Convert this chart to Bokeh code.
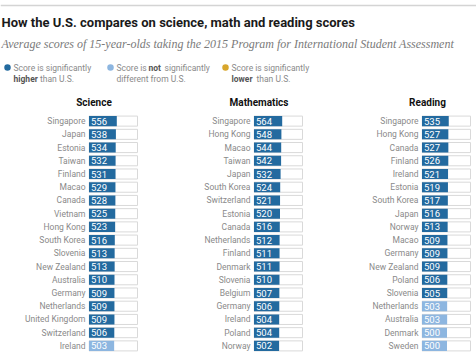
from bokeh.plotting import figure
from bokeh.layouts import column, row
from bokeh.models import Range1d, FactorRange, ColumnDataSource
from bokeh.core.properties import value
from bokeh.embed import file_html
from bokeh.resources import INLINE

# ---------------- data ----------------
science_countries = ["Singapore", "Japan", "Estonia", "Taiwan", "Finland", "Macao",
                     "Canada", "Vietnam", "Hong Kong", "South Korea", "Slovenia",
                     "New Zealand", "Australia", "Germany", "Netherlands",
                     "United Kingdom", "Switzerland", "Ireland"]
science_scores = [556, 538, 534, 532, 531, 529, 528, 525, 523, 516, 513, 513,
                  510, 509, 509, 509, 506, 503]
science_sig = ["higher"] * 17 + ["same"]

math_countries = ["Singapore", "Hong Kong", "Macao", "Taiwan", "Japan", "South Korea",
                  "Switzerland", "Estonia", "Canada", "Netherlands", "Finland",
                  "Denmark", "Slovenia", "Belgium", "Germany", "Ireland", "Poland",
                  "Norway"]
math_scores = [564, 548, 544, 542, 532, 524, 521, 520, 516, 512, 511, 511,
               510, 507, 506, 504, 504, 502]
math_sig = ["higher"] * 18

reading_countries = ["Singapore", "Hong Kong", "Canada", "Finland", "Ireland",
                     "Estonia", "South Korea", "Japan", "Norway", "Macao", "Germany",
                     "New Zealand", "Poland", "Slovenia", "Netherlands", "Australia",
                     "Denmark", "Sweden"]
reading_scores = [535, 527, 527, 526, 521, 519, 517, 516, 513, 509, 509, 509,
                  506, 505, 503, 503, 500, 500]
reading_sig = ["higher"] * 14 + ["same"] * 4

subjects = ["Science", "Mathematics", "Reading"]

title = "How the U.S. compares on science, math and reading scores"
subtitle = "Average scores of 15-year-olds taking the 2015 Program for International Student Assessment"

# ---------------- styles ----------------
COLORS = {"higher": "#236a9f", "same": "#8db6e0", "lower": "#d8a62c"}
FONT = value("Roboto")
LABEL_GRAY = "#8a8a8a"
SCALE_MAX = 970

# ---------------- header ----------------
HW, HH = 476, 114
h = figure(width=HW, height=HH, x_range=Range1d(0, HW), y_range=Range1d(HH, 0),
           output_backend="svg", toolbar_location=None, min_border=0)
h.axis.visible = False
h.grid.visible = False
h.outline_line_color = None

h.segment(x0=[0], y0=[5], x1=[HW], y1=[5], line_color="#d4d4d4", line_width=1.5)
h.text(x=[1], y=[22], text=[title], text_font=FONT, text_font_style="bold",
       text_font_size="13px", text_baseline="middle", text_color="#1a1a1a")
h.text(x=[1], y=[43], text=[subtitle], text_font=value("Liberation Serif"),
       text_font_style="italic", text_font_size="12px", text_baseline="middle",
       text_color="#7a7a7a")

# legend
leg_x = [7, 110, 225]
h.scatter(x=leg_x, y=[67, 67, 67], size=6.5, line_color=None,
          fill_color=[COLORS["higher"], COLORS["same"], COLORS["lower"]])
tx = [x + 6 for x in leg_x]
common = dict(text_font=FONT, text_font_size="8.5px", text_baseline="middle")
h.text(x=[tx[0]], y=[67], text=["Score is significantly"], text_color=LABEL_GRAY, **common)
h.text(x=[tx[0]], y=[78], text=["higher"], text_color="#555555", text_font_style="bold", **common)
h.text(x=[tx[0] + 26.5], y=[78], text=["than U.S."], text_color=LABEL_GRAY, **common)

h.text(x=[tx[1]], y=[67], text=["Score is"], text_color=LABEL_GRAY, **common)
h.text(x=[tx[1] + 32], y=[67], text=["not"], text_color="#555555", text_font_style="bold", **common)
h.text(x=[tx[1] + 48], y=[67], text=["significantly"], text_color=LABEL_GRAY, **common)
h.text(x=[tx[1]], y=[78], text=["different from U.S."], text_color=LABEL_GRAY, **common)

h.text(x=[tx[2]], y=[67], text=["Score is significantly"], text_color=LABEL_GRAY, **common)
h.text(x=[tx[2]], y=[78], text=["lower"], text_color="#555555", text_font_style="bold", **common)
h.text(x=[tx[2] + 25], y=[78], text=["than U.S."], text_color=LABEL_GRAY, **common)

# column headers
h.text(x=[93.5, 258.5, 427], y=[102, 102, 102], text=subjects, text_font=FONT,
       text_font_style="bold", text_font_size="10px", text_align="center",
       text_baseline="middle", text_color="#111111")


# ---------------- panels ----------------
def panel(countries, scores, sig, left_border, right_border):
    src = ColumnDataSource(dict(
        country=countries,
        score=scores,
        label=[str(s) for s in scores],
        color=[COLORS[s] for s in sig],
        full=[SCALE_MAX] * len(countries),
    ))
    p = figure(frame_width=50, frame_height=238,
               y_range=FactorRange(factors=list(reversed(countries))),
               x_range=Range1d(-10, 990), x_axis_location=None,
               output_backend="svg", toolbar_location=None,
               min_border_left=left_border, min_border_right=right_border,
               min_border_top=0, min_border_bottom=2)
    p.grid.visible = False
    p.outline_line_color = None
    p.hbar(y="country", left=0, right="full", height=0.76, source=src,
           fill_color="white", line_color="#d9d9d9", line_width=1)
    p.hbar(y="country", left=0, right="score", height=0.76, source=src,
           fill_color="color", line_color=None)
    p.text(x=0, y="country", text="label", source=src, x_offset=2,
           text_font=FONT, text_font_size="9.5px", text_baseline="middle",
           text_color="white")
    ax = p.yaxis[0]
    ax.axis_line_color = None
    ax.major_tick_line_color = None
    ax.minor_tick_line_color = None
    ax.major_tick_out = 0
    ax.major_tick_in = 0
    ax.major_label_standoff = 3
    ax.major_label_text_font = "Roboto"
    ax.major_label_text_font_size = "8.5px"
    ax.major_label_text_color = LABEL_GRAY
    return p


p1 = panel(science_countries, science_scores, science_sig, 88, 4)
p2 = panel(math_countries, math_scores, math_sig, 111, 4)
p3 = panel(reading_countries, reading_scores, reading_sig, 114, 5)

layout = column(h, row(p1, p2, p3, spacing=0), spacing=0)

open("out.html", "w").write(file_html(layout, INLINE))
